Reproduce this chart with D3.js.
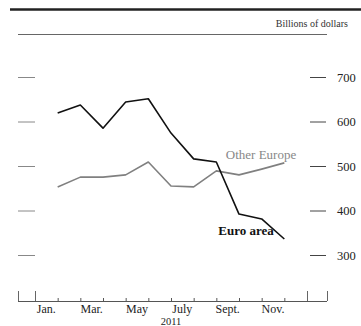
<!DOCTYPE html>
<html>
<head>
<meta charset="utf-8">
<script src="https://cdn.jsdelivr.net/npm/d3@7"></script>
<style>
  html, body { margin: 0; padding: 0; background: #fff; }
  svg { display: block; font-family: "Liberation Serif", "Times New Roman", serif; }
</style>
</head>
<body>
<svg id="chart" width="361" height="326"></svg>
<script>
// Monthly end-of-month holdings, billions of dollars (Jan.–Nov. 2011)
const months = ["Jan", "Feb", "Mar", "Apr", "May", "Jun", "Jul", "Aug", "Sep", "Oct", "Nov"];
const euroArea = [619, 637, 585, 644, 651, 574, 516, 509, 392, 381, 336];
const otherEurope = [453, 475, 475, 480, 509, 455, 453, 489, 480, 493, 507];
const yTicks = [300, 400, 500, 600, 700];
const monthLabels = ["Jan.", "Mar.", "May", "July", "Sept.", "Nov."];
const monthLabelIdx = [0, 2, 4, 6, 8, 10];

const svg = d3.select("#chart");
const W = 361;

// x: month boundaries 0..12 across 2011; data sit at month ends
const x = d3.scaleLinear().domain([0, 12]).range([35, 307]);
const y = d3.scaleLinear().domain([300, 700]).range([255, 77]);

// heading rules
svg.append("line").attr("x1", 10).attr("x2", W).attr("y1", 9.5).attr("y2", 9.5)
  .attr("stroke", "#222").attr("stroke-width", 2.5);
svg.append("line").attr("x1", 18).attr("x2", 327).attr("y1", 34.5).attr("y2", 34.5)
  .attr("stroke", "#666").attr("stroke-width", 1);
svg.append("text").attr("x", 348).attr("y", 27).attr("text-anchor", "end")
  .attr("font-size", 10).attr("fill", "#333").text("Billions of dollars");

// right value axis
const yAxisR = d3.axisRight(y).tickValues(yTicks).tickSize(16).tickPadding(11);
const gR = svg.append("g").attr("transform", "translate(310,0)").call(yAxisR);
gR.select(".domain").remove();
gR.selectAll(".tick line").attr("stroke", "#444");
gR.selectAll(".tick text").attr("font-family", "Liberation Serif, serif")
  .attr("font-size", 12.5).attr("fill", "#222");

// left tick marks without labels
const yAxisL = d3.axisLeft(y).tickValues(yTicks).tickSize(17).tickFormat("");
const gL = svg.append("g").attr("transform", "translate(35,0)").call(yAxisL);
gL.select(".domain").remove();
gL.selectAll(".tick line").attr("stroke", "#888");

// bottom axis: baseline, month ticks, year-end ticks
const base = 301;
svg.append("line").attr("x1", 18).attr("x2", 327).attr("y1", base + 0.5).attr("y2", base + 0.5)
  .attr("stroke", "#555").attr("stroke-width", 1);
const xAxis = d3.axisTop(x).tickValues(d3.range(1, 12)).tickSize(3).tickFormat("");
const gX = svg.append("g").attr("transform", `translate(0,${base})`).call(xAxis);
gX.select(".domain").remove();
gX.selectAll(".tick line").attr("stroke", "#555");
[18, x(0), x(12), 327].forEach(px => {
  svg.append("line").attr("x1", Math.round(px) + 0.5).attr("x2", Math.round(px) + 0.5)
    .attr("y1", base - 10).attr("y2", base).attr("stroke", "#666").attr("stroke-width", 1);
});
svg.append("g").selectAll("text").data(monthLabelIdx).join("text")
  .attr("x", d => x(d + 0.5))
  .attr("y", 313).attr("text-anchor", "middle").attr("font-size", 12).attr("fill", "#222")
  .text((d, i) => monthLabels[i]);
svg.append("text").attr("x", x(6)).attr("y", 325).attr("text-anchor", "middle")
  .attr("font-size", 10.5).attr("fill", "#222").text("2011");

// series
const line = d3.line().x((d, i) => x(i + 1)).y(d => y(d));
svg.append("path").datum(otherEurope).attr("d", line).attr("fill", "none")
  .attr("stroke", "#808080").attr("stroke-width", 1.6).attr("stroke-linejoin", "round");
svg.append("path").datum(euroArea).attr("d", line).attr("fill", "none")
  .attr("stroke", "#111").attr("stroke-width", 1.6).attr("stroke-linejoin", "round");

// series labels
svg.append("text").attr("x", 261).attr("y", 159).attr("text-anchor", "middle")
  .attr("font-size", 13).attr("fill", "#888").text("Other Europe");
svg.append("text").attr("x", 246).attr("y", 235).attr("text-anchor", "middle")
  .attr("font-size", 13).attr("font-weight", "bold").attr("fill", "#111").text("Euro area");
</script>
</body>
</html>
